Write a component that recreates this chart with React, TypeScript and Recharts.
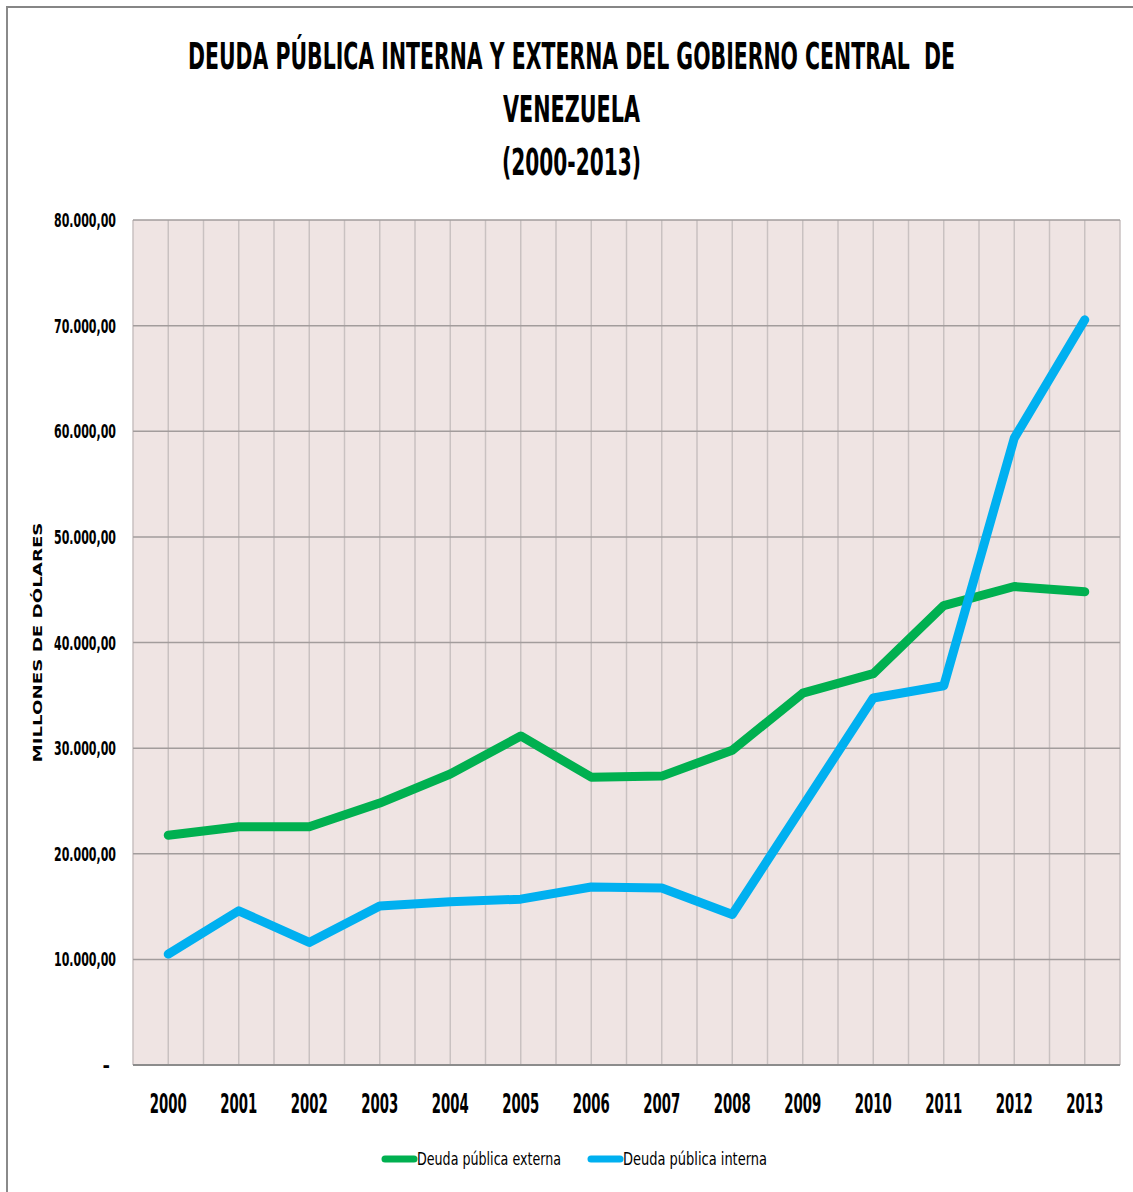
import React from 'react';
import { LineChart, Line, XAxis, YAxis, CartesianGrid, Legend } from 'recharts';

const years = ['2000','2001','2002','2003','2004','2005','2006','2007','2008','2009','2010','2011','2012','2013'];
const deudaExterna = [21750, 22550, 22550, 24800, 27550, 31150, 27250, 27350, 29800, 35200, 37050, 43500, 45300, 44800];
const deudaInterna = [10500, 14600, 11600, 15050, 15450, 15700, 16850, 16750, 14250, 24500, 34750, 35900, 59350, 70550];
const yTicks = [0, 10000, 20000, 30000, 40000, 50000, 60000, 70000, 80000];
const titleLines = ['DEUDA PÚBLICA INTERNA Y EXTERNA DEL GOBIERNO CENTRAL  DE', 'VENEZUELA', '(2000-2013)'];
const yLabel = 'MILLONES DE DÓLARES';

const data = years.map((y, i) => ({ idx: i, year: y, externa: deudaExterna[i], interna: deudaInterna[i] }));
const gridTicks: number[] = [];
years.forEach((_, i) => { gridTicks.push(i - 0.5); gridTicks.push(i); });
gridTicks.push(years.length - 0.5);

const NARROW = "'Liberation Sans Narrow', 'DejaVu Sans Condensed', 'Liberation Sans', sans-serif";

const fmt = (v: number) => {
  if (v === 0) return '-';
  const s = Math.round(v).toString().replace(/\B(?=(\d{3})+(?!\d))/g, '.');
  return s + ',00';
};

const XTick = (props: any) => {
  const { x, y, payload } = props;
  const v = payload.value;
  if (!Number.isInteger(v)) return null;
  return (
    <text x={x} y={y + 40} textAnchor="middle" fontFamily={NARROW} fontWeight="bold" fontSize={27}
      fill="#000" textLength={37} lengthAdjust="spacingAndGlyphs">{years[v]}</text>
  );
};

const YTick = (props: any) => {
  const { y, payload } = props;
  const label = fmt(payload.value);
  if (payload.value === 0) {
    return <text x={110} y={y + 7} textAnchor="end" fontFamily={NARROW} fontWeight="bold" fontSize={20} fill="#000">-</text>;
  }
  return (
    <text x={116} y={y + 7} textAnchor="end" fontFamily={NARROW} fontWeight="bold" fontSize={20}
      fill="#000" textLength={62} lengthAdjust="spacingAndGlyphs">{label}</text>
  );
};

const YLabel = (props: any) => {
  const vb = props.viewBox || { x: 0, y: 220, width: 133, height: 845 };
  const cx = vb.x + 37;
  const cy = vb.y + vb.height / 2;
  return (
    <text x={cx} y={cy} transform={`rotate(-90 ${cx} ${cy})`} textAnchor="middle" dominantBaseline="central"
      fontFamily="'DejaVu Sans', sans-serif" fontWeight="bold" fontSize={13} fill="#000"
      textLength={240} lengthAdjust="spacingAndGlyphs">{yLabel}</text>
  );
};

const LegendContent = (props: any) => {
  const payload = props.payload || [];
  const startX = 382;
  const iconW = 35;
  const textW = 144;
  const gap = 27;
  return (
    <svg width={1133} height={30} style={{ display: 'block' }}>
      {payload.map((p: any, i: number) => {
        const x0 = startX + i * (iconW + textW + gap);
        return (
          <g key={i}>
            <line x1={x0 + 3} y1={14} x2={x0 + iconW - 3} y2={14} stroke={p.color} strokeWidth={7} strokeLinecap="round" />
            <text x={x0 + iconW} y={20} fontFamily={NARROW} fontSize={18} fill="#000"
              textLength={textW} lengthAdjust="spacingAndGlyphs">{p.value}</text>
          </g>
        );
      })}
    </svg>
  );
};

const TitleLine = ({ text, y, w }: { text: string; y: number; w: number }) => (
  <text x={0} y={0} transform={`translate(571.5 ${y}) scale(1 1.6)`} textAnchor="middle" fontFamily={NARROW}
    fontWeight="bold" fontSize={23} fill="#000" textLength={w} lengthAdjust="spacingAndGlyphs"
    style={{ whiteSpace: 'pre' }}>{text}</text>
);

export default function App() {
  return (
    <div style={{ position: 'absolute', left: 0, top: 0, width: 1133, height: 1192, background: '#fff', overflow: 'hidden' }}>
      <div style={{ position: 'absolute', left: 6, top: 6, width: 1200, height: 1300, borderTop: '2px solid #868686', borderLeft: '2px solid #8a8a8a' }} />
      <div style={{ position: 'absolute', left: 0, top: 0 }}>
        <LineChart width={1133} height={1192} data={data} margin={{ top: 220, right: 13, bottom: 37, left: 0 }}>
          <CartesianGrid fill="#efe4e3" horizontal={false} stroke="#c9c1c1" strokeWidth={1.5} />
          <CartesianGrid vertical={false} stroke="#a29c9c" strokeWidth={1.5} fillOpacity={0} />
          <XAxis dataKey="idx" type="number" domain={[-0.5, years.length - 0.5]} ticks={gridTicks}
            interval={0} tick={<XTick />} tickLine={false} axisLine={{ stroke: '#8c8c8c', strokeWidth: 2 }} height={60} />
          <YAxis domain={[0, 80000]} ticks={yTicks} interval={0} tick={<YTick />} tickLine={false}
            axisLine={false} width={133} label={<YLabel />} />
          <Legend height={30} content={<LegendContent />} wrapperStyle={{ top: 1145, left: 0, width: 1133, bottom: 'auto' }} />
          <Line type="linear" dataKey="externa" name="Deuda pública externa" stroke="#00b050" strokeWidth={9}
            strokeLinecap="round" strokeLinejoin="round" dot={false} isAnimationActive={false} />
          <Line type="linear" dataKey="interna" name="Deuda pública interna" stroke="#00b0f0" strokeWidth={9}
            strokeLinecap="round" strokeLinejoin="round" dot={false} isAnimationActive={false} />
        </LineChart>
      </div>
      <svg width={1133} height={200} style={{ position: 'absolute', left: 0, top: 0 }}>
        <TitleLine text={titleLines[0]} y={69} w={767} />
        <TitleLine text={titleLines[1]} y={122} w={137} />
        <TitleLine text={titleLines[2]} y={175} w={139} />
      </svg>
    </div>
  );
}
